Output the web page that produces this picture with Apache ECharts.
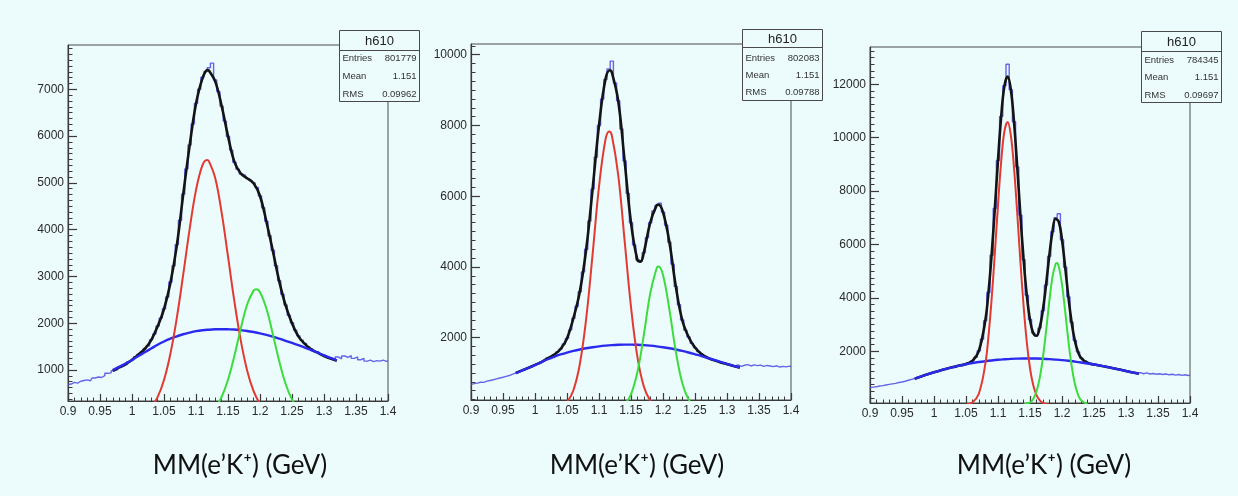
<!DOCTYPE html>
<html><head><meta charset="utf-8">
<script src="https://cdn.jsdelivr.net/npm/echarts@6/dist/echarts.min.js"></script>
<style>html,body{margin:0;padding:0;background:#ecfbfc}#c{width:1238px;height:496px}</style>
</head><body><div id="c"></div><script>
// ---------- tick labels ----------
const X_MAJOR = [0.9, 0.95, 1, 1.05, 1.1, 1.15, 1.2, 1.25, 1.3, 1.35, 1.4];
const Y1_MAJOR = [1000, 2000, 3000, 4000, 5000, 6000, 7000];
const Y2_MAJOR = [2000, 4000, 6000, 8000, 10000];
const Y3_MAJOR = [2000, 4000, 6000, 8000, 10000, 12000];
const AXIS_TITLE = 'MM(e’K⁺) (GeV)';
const STATS_NAME = 'h610';
const STATS1 = ['801779', '1.151', '0.09962'];
const STATS2 = ['802083', '1.151', '0.09788'];
const STATS3 = ['784345', '1.151', '0.09697'];

// ---------- histogram bins (0.9 .. 1.4, width 0.005) ----------
const HIST_X = Array.from({length: 101}, (_, i) => +(0.9 + i * 0.005).toFixed(3));
const HIST1 = [690,700,735,720,760,775,790,770,830,850,
 840,880,930,940,985,1010,1060,1085,1120,1180,
 1215,1285,1335,1380,1460,1520,1650,1770,1940,2110,
 2310,2560,2880,3230,3680,4200,4760,5300,5810,6260,
 6700,7000,7260,7380,7460,7560,7200,6950,6640,6320,
 5990,5700,5440,5290,5190,5160,5090,5050,5000,4900,
 4720,4470,4180,3870,3560,3230,2910,2620,2390,2170,
 2010,1850,1730,1640,1570,1500,1450,1400,1380,1330,
 1310,1270,1250,1210,1280,1240,1300,1270,1310,1250,
 1280,1220,1250,1190,1210,1180,1200,1190,1210,1185,1195];
const HIST2 = [680,700,715,740,735,770,790,810,835,860,
 880,905,930,970,1000,1040,1075,1110,1150,1195,
 1230,1275,1310,1350,1420,1460,1520,1600,1680,1820,
 1980,2220,2550,2880,3300,3860,4500,5300,6200,7100,
 8000,8750,9300,9600,9820,9200,8700,7900,7000,6080,
 5250,4620,4200,4160,4400,4830,5250,5580,5740,5800,
 5550,5180,4700,4080,3450,2930,2500,2210,2020,1840,
 1720,1610,1540,1470,1430,1390,1360,1320,1300,1270,
 1250,1230,1200,1230,1190,1220,1240,1200,1230,1210,
 1225,1190,1215,1200,1180,1205,1170,1190,1175,1195,1180];
const HIST3 = [640,660,670,700,715,740,760,780,800,830,
 850,880,915,950,980,1020,1060,1110,1140,1185,
 1220,1250,1290,1320,1360,1380,1420,1440,1480,1500,
 1540,1570,1650,1780,2020,2450,3150,4200,5600,7350,
 9150,10800,11950,12750,11800,10600,8900,7100,5430,4100,
 3190,2690,2580,2870,3520,4480,5560,6480,7000,7150,
 6180,5150,4040,3090,2410,1980,1750,1640,1570,1530,
 1510,1480,1465,1440,1420,1390,1370,1345,1320,1290,
 1265,1240,1215,1195,1200,1160,1190,1150,1170,1140,
 1160,1130,1150,1120,1140,1110,1130,1100,1120,1095,1110];

// ---------- background fit (blue) ----------
const BG_X = [0.97,0.98,0.99,1.00,1.01,1.02,1.03,1.04,1.05,1.06,1.07,1.08,1.09,1.10,1.11,1.12,1.13,1.14,1.15,1.16,1.17,1.18,1.19,1.20,1.21,1.22,1.23,1.24,1.25,1.26,1.27,1.28,1.29,1.30,1.31,1.32];
const BG1 = [1000,1070,1140,1214,1300,1380,1460,1540,1610,1670,1720,1765,1800,1830,1850,1862,1870,1872,1870,1865,1852,1835,1812,1785,1752,1713,1670,1625,1578,1530,1480,1425,1370,1315,1260,1205];
const BG2 = [1000,1075,1150,1225,1310,1390,1460,1525,1580,1625,1665,1700,1730,1755,1775,1790,1800,1805,1805,1800,1790,1775,1755,1730,1700,1665,1625,1580,1530,1480,1425,1370,1315,1260,1205,1150];
const BG3 = [975,1060,1140,1215,1285,1350,1410,1465,1515,1560,1598,1630,1658,1682,1700,1715,1725,1730,1732,1728,1720,1707,1690,1670,1645,1615,1582,1545,1505,1462,1415,1365,1315,1262,1210,1160];

// ---------- total fit (black) ----------
const FIT1_X = [0.97,0.98,0.99,1.00,1.01,1.02,1.03,1.04,1.05,1.06,1.07,1.08,1.09,1.10,1.11,1.118,1.12,1.13,1.14,1.15,1.16,1.17,1.18,1.19,1.20,1.21,1.22,1.23,1.24,1.25,1.26,1.27,1.28,1.29,1.30,1.31,1.32];
const FIT1 = [985,1055,1125,1220,1330,1450,1640,1930,2300,2860,3660,4750,5790,6690,7230,7410,7400,7170,6650,6000,5450,5200,5100,4990,4720,4170,3550,2900,2380,2000,1720,1560,1440,1370,1300,1245,1200];
const FIT2_X = [0.97,0.98,0.99,1.00,1.01,1.02,1.03,1.04,1.05,1.06,1.07,1.08,1.09,1.10,1.11,1.117,1.12,1.13,1.14,1.15,1.16,1.165,1.17,1.18,1.19,1.193,1.20,1.21,1.22,1.23,1.24,1.25,1.26,1.27,1.28,1.29,1.30,1.31,1.32];
const FIT2 = [1000,1075,1150,1230,1310,1420,1520,1680,1980,2550,3300,4500,6200,8000,9300,9560,9500,8700,7000,5250,4200,4150,4400,5250,5740,5760,5550,4700,3450,2500,2020,1720,1540,1430,1360,1300,1250,1200,1160];
const FIT3_X = [0.97,0.98,0.99,1.00,1.01,1.02,1.03,1.04,1.05,1.06,1.07,1.08,1.085,1.09,1.095,1.10,1.105,1.11,1.115,1.12,1.125,1.13,1.135,1.14,1.145,1.15,1.155,1.16,1.165,1.17,1.175,1.18,1.185,1.19,1.195,1.20,1.205,1.21,1.215,1.22,1.225,1.23,1.24,1.25,1.26,1.27,1.28,1.29,1.30,1.31,1.32];
const FIT3 = [975,1060,1140,1215,1285,1350,1410,1465,1527,1642,2010,3131,4178,5599,7325,9158,10800,11931,12290,11812,10594,8916,7095,5435,4101,3183,2684,2581,2867,3522,4473,5550,6470,6962,6852,6176,5144,4039,3090,2406,1978,1744,1566,1505,1462,1415,1365,1315,1262,1210,1160];

// ---------- first peak (red) ----------
const RED1_X = [1.02,1.03,1.04,1.05,1.06,1.07,1.08,1.09,1.10,1.11,1.117,1.12,1.13,1.14,1.15,1.16,1.17,1.18,1.19,1.20,1.21];
const RED1 = [94,209,422,787,1347,2113,3037,4006,4845,5375,5490,5469,5104,4368,3427,2466,1629,987,548,279,130];
const RED2_X = [1.04,1.05,1.06,1.07,1.08,1.09,1.10,1.11,1.116,1.12,1.13,1.14,1.15,1.16,1.17,1.18,1.19];
const RED2 = [52,178,514,1248,2542,4353,6269,7589,7830,7722,6606,4749,2872,1458,623,224,68];
const RED3_X = [1.05,1.06,1.07,1.08,1.085,1.09,1.095,1.10,1.105,1.11,1.115,1.12,1.125,1.13,1.135,1.14,1.145,1.15,1.155,1.16,1.165,1.17,1.18];
const RED3 = [12,82,412,1501,2534,3941,5655,7476,9109,10231,10585,10097,8874,7191,5367,3696,2340,1366,737,366,168,71,10];

// ---------- second peak (green) ----------
const GRN1_X = [1.12,1.13,1.14,1.15,1.16,1.17,1.18,1.19,1.194,1.20,1.21,1.22,1.23,1.24,1.25,1.26,1.27];
const GRN1 = [83,200,424,792,1304,1888,2405,2697,2725,2663,2315,1770,1192,707,369,169,69];
const GRN2_X = [1.13,1.14,1.15,1.16,1.17,1.18,1.19,1.193,1.20,1.21,1.22,1.23,1.24,1.25,1.26];
const GRN2 = [28,120,398,1028,2070,3247,3965,4010,3772,2795,1612,725,253,69,14];
const GRN3_X = [1.14,1.15,1.155,1.16,1.165,1.17,1.175,1.18,1.185,1.19,1.192,1.195,1.20,1.205,1.21,1.215,1.22,1.225,1.23,1.24];
const GRN3 = [9,85,216,487,975,1731,2734,3833,4771,5272,5305,5172,4506,3486,2394,1460,791,380,162,21];

// ---------- layout ----------
const BGCOL = '#ecfbfc';
const panels = [
  {grid:{left:68, top:45, width:320, height:356}, yMin:338, yMax:7947, yMajor:Y1_MAJOR, yMinorStep:125,
   hist:HIST1, bg:BG1, fitX:FIT1_X, fit:FIT1, redX:RED1_X, red:RED1, grnX:GRN1_X, grn:GRN1,
   box:{x:339.5, y:30.5, w:80, h:71, hdr:20}, rows:[58,76,94], stats:STATS1, titleX:240},
  {grid:{left:471, top:44, width:320, height:356}, yMin:238, yMax:10303, yMajor:Y2_MAJOR, yMinorStep:250,
   hist:HIST2, bg:BG2, fitX:FIT2_X, fit:FIT2, redX:RED2_X, red:RED2, grnX:GRN2_X, grn:GRN2,
   box:{x:742.5, y:29.5, w:80, h:71, hdr:18}, rows:[58,75,92], stats:STATS2, titleX:637},
  {grid:{left:870, top:47, width:320, height:356}, yMin:64, yMax:13397, yMajor:Y3_MAJOR, yMinorStep:250,
   hist:HIST3, bg:BG3, fitX:FIT3_X, fit:FIT3, redX:RED3_X, red:RED3, grnX:GRN3_X, grn:GRN3,
   box:{x:1141.5, y:31.5, w:80, h:71, hdr:20}, rows:[60,77,95], stats:STATS3, titleX:1044}
];

const zip = (xs, ys) => xs.map((x, i) => [x, ys[i]]);

const grids = [], xAxes = [], yAxes = [], series = [], graphics = [];
const AX = '#3a3a3a';
const labelFont = 'Liberation Sans';

panels.forEach((p, i) => {
  grids.push(Object.assign({show:true, borderColor:'#4a4a4a', borderWidth:1, backgroundColor:'transparent', containLabel:false}, p.grid));
  const yMinor = [];
  for (let v = Math.ceil(p.yMin / p.yMinorStep) * p.yMinorStep; v <= p.yMax; v += p.yMinorStep) {
    if (p.yMajor.indexOf(v) < 0) yMinor.push(v);
  }
  // x axis: ticks from min 0.9 (a multiple of 0.05), minor ticks every 0.01
  xAxes.push({type:'value', gridIndex:i, min:0.9, max:1.4, interval:0.05, position:'bottom',
    axisLine:{show:true, onZero:false, lineStyle:{color:AX, width:1.2}},
    axisTick:{show:true, inside:true, length:7, lineStyle:{color:AX, width:1.2}},
    minorTick:{show:true, splitNumber:5, length:3.5, lineStyle:{color:AX, width:1}},
    axisLabel:{formatter:v => String(+(+v).toFixed(2)), color:'#2a2a2a', fontSize:12, fontFamily:labelFont, margin:5, showMinLabel:true, showMaxLabel:true},
    splitLine:{show:false}});
  // y axis: major ticks/labels
  yAxes.push({type:'value', gridIndex:i, min:p.yMin, max:p.yMax, position:'left',
    axisLine:{show:true, onZero:false, lineStyle:{color:AX, width:1.2}},
    axisTick:{show:true, inside:true, length:9, customValues:p.yMajor, lineStyle:{color:AX, width:1.2}},
    axisLabel:{customValues:p.yMajor, formatter:v => String(v), color:'#2a2a2a', fontSize:12, fontFamily:labelFont, margin:4},
    splitLine:{show:false}});
  // y axis: minor ticks
  yAxes.push({type:'value', gridIndex:i, min:p.yMin, max:p.yMax, position:'left',
    axisLine:{show:true, onZero:false, lineStyle:{color:'rgba(0,0,0,0)', width:0}},
    axisTick:{show:true, inside:true, length:4.5, customValues:yMinor, lineStyle:{color:AX, width:1}},
    axisLabel:{show:false, customValues:yMinor}, splitLine:{show:false}});

  const base = {type:'line', xAxisIndex:i, yAxisIndex:2*i, symbol:'none', showSymbol:false, silent:true, clip:true, animation:false};
  series.push(Object.assign({}, base, {data:zip(HIST_X, p.hist), step:'middle', lineStyle:{color:'#4b4be4', width:1.4, opacity:0.85}, z:2}));
  series.push(Object.assign({}, base, {data:zip(p.fitX, p.fit), smooth:0.4, lineStyle:{color:'#141414', width:2.6}, z:3}));
  series.push(Object.assign({}, base, {data:zip(BG_X, p.bg), smooth:0.4, lineStyle:{color:'#2a2aee', width:2.4}, z:4}));
  series.push(Object.assign({}, base, {data:zip(p.redX, p.red), smooth:0.4, lineStyle:{color:'#e23a32', width:2}, z:5}));
  series.push(Object.assign({}, base, {data:zip(p.grnX, p.grn), smooth:0.4, lineStyle:{color:'#3ddc3d', width:2}, z:5}));

  const b = p.box;
  graphics.push({type:'rect', z:100, shape:{x:b.x, y:b.y, width:b.w, height:b.h}, style:{fill:BGCOL, stroke:'#4a4a4a', lineWidth:1}});
  graphics.push({type:'line', z:101, shape:{x1:b.x, y1:b.y + b.hdr, x2:b.x + b.w, y2:b.y + b.hdr}, style:{stroke:'#4a4a4a', lineWidth:1}});
  graphics.push({type:'text', z:102, style:{text:STATS_NAME, x:b.x + b.w / 2, y:b.y + b.hdr / 2 + 1, align:'center', verticalAlign:'middle', textAlign:'center', textVerticalAlign:'middle', font:'13px "Liberation Sans"', fill:'#222'}});
  const names = ['Entries', 'Mean', 'RMS'];
  names.forEach((nm, r) => {
    graphics.push({type:'text', z:102, style:{text:nm, x:b.x + 3, y:p.rows[r], align:'left', verticalAlign:'middle', textAlign:'left', textVerticalAlign:'middle', font:'9.5px "Liberation Sans"', fill:'#333'}});
    graphics.push({type:'text', z:102, style:{text:p.stats[r], x:b.x + b.w - 3, y:p.rows[r], align:'right', verticalAlign:'middle', textAlign:'right', textVerticalAlign:'middle', font:'9.5px "Liberation Sans"', fill:'#333'}});
  });
  graphics.push({type:'text', z:102, style:{text:AXIS_TITLE, x:p.titleX, y:466, align:'center', verticalAlign:'middle', textAlign:'center', textVerticalAlign:'middle', font:'26px Lato, "Open Sans", sans-serif', fill:'#111'}});
});

const chart = echarts.init(document.getElementById('c'), null, {renderer:'canvas'});
chart.setOption({
  backgroundColor: BGCOL,
  animation: false,
  grid: grids, xAxis: xAxes, yAxis: yAxes, series: series,
  graphic: {elements: graphics}
});
</script></body></html>
